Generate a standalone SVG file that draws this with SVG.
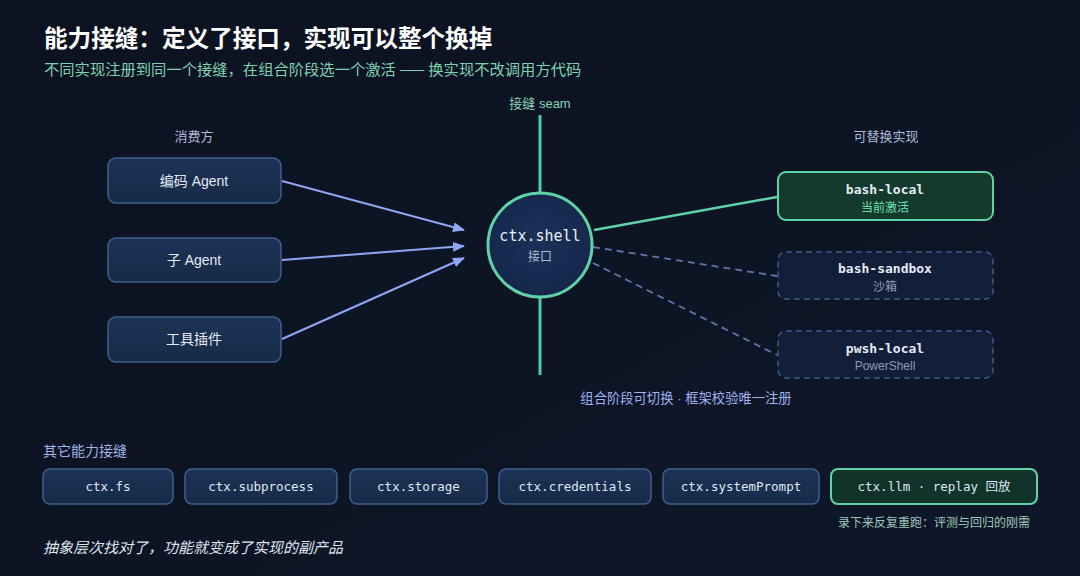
<svg xmlns="http://www.w3.org/2000/svg" width="1080" height="576" viewBox="0 0 1080 576">
<defs>
<linearGradient id="bg" x1="0" y1="0" x2="1" y2="1">
<stop offset="0" stop-color="#0c1220"/>
<stop offset="1" stop-color="#0e1729"/>
</linearGradient>
<linearGradient id="boxfill" x1="0" y1="0" x2="0" y2="1">
<stop offset="0" stop-color="#1d3356"/>
<stop offset="1" stop-color="#172a48"/>
</linearGradient>
<radialGradient id="circfill" cx="0.5" cy="0.45" r="0.6">
<stop offset="0" stop-color="#1b3158"/>
<stop offset="1" stop-color="#14264a"/>
</radialGradient>
<marker id="arr" viewBox="0 0 12 10" refX="11" refY="5" markerWidth="12" markerHeight="10" markerUnits="userSpaceOnUse" orient="auto">
<path d="M0,0 L12,5 L0,10 Z" fill="#8fa6f4"/>
</marker>
<style>
.sans{font-family:"Liberation Sans","Noto Sans CJK SC",sans-serif}
.cjk{font-family:"Noto Sans CJK SC","Liberation Sans",sans-serif}
.mono{font-family:"DejaVu Sans Mono","Liberation Mono","Noto Sans CJK SC",monospace}
.box{fill:url(#boxfill);stroke:#3f5f8c;stroke-width:1.5}
.green{fill:#133a2c;stroke:#5fd3a7;stroke-width:2}
.dash{fill:#131f39;stroke:#3f5a88;stroke-width:1.5;stroke-dasharray:6 4}
.lbl{fill:#e4ebf5;font-size:14px;text-anchor:middle}
.mlbl{fill:#e4ebf5;font-size:13px;text-anchor:middle;font-weight:bold}
.small{font-size:12px;text-anchor:middle}
.sec{fill:#a9bcd8;font-size:13px;text-anchor:middle}
.arrow{stroke:#8fa6f4;stroke-width:2;fill:none}
.seam{stroke:#53c9a3;stroke-width:3;fill:none}
.dl{stroke:#5f77ab;stroke-width:1.8;stroke-dasharray:7 5;fill:none}
.bm{fill:#dfe7f2;font-size:12.5px;text-anchor:middle}
</style>
</defs>
<rect x="0" y="0" width="1080" height="576" fill="url(#bg)"/>

<text class="cjk" x="44" y="47" font-size="23.6" font-weight="bold" fill="#ffffff">能力接缝：定义了接口，实现可以整个换掉</text>
<text class="cjk" x="44" y="75" font-size="15.3" fill="#7fd2b2">不同实现注册到同一个接缝，在组合阶段选一个激活 —— 换实现不改调用方代码</text>

<text class="sans sec" x="194" y="141">消费方</text>
<text class="sans sec" x="886" y="141">可替换实现</text>
<text class="sans" x="540" y="108" font-size="13" text-anchor="middle" fill="#86d3b7">接缝 seam</text>

<g id="connectors">
<line class="seam" x1="540" y1="115" x2="540" y2="192"/>
<line class="seam" x1="540" y1="297" x2="540" y2="375"/>
<line class="arrow" x1="282" y1="181" x2="464" y2="230" marker-end="url(#arr)"/>
<line class="arrow" x1="282" y1="260" x2="464" y2="246" marker-end="url(#arr)"/>
<line class="arrow" x1="282" y1="339" x2="464" y2="258" marker-end="url(#arr)"/>
<line x1="594" y1="230" x2="777" y2="197" stroke="#5fd3a7" stroke-width="2.5"/>
<line class="dl" x1="593" y1="247" x2="777" y2="276"/>
<line class="dl" x1="593" y1="263" x2="777" y2="355"/>
</g>

<g id="node-coder">
<rect class="box" x="108" y="158" width="173" height="45" rx="8"/>
<text class="sans lbl" x="194" y="186">编码 Agent</text>
</g>
<g id="node-subagent">
<rect class="box" x="108" y="238" width="173" height="44" rx="8"/>
<text class="sans lbl" x="194" y="265">子 Agent</text>
</g>
<g id="node-plugin">
<rect class="box" x="108" y="317" width="173" height="45" rx="8"/>
<text class="sans lbl" x="194" y="344">工具插件</text>
</g>

<g id="node-ctx-shell">
<circle cx="540" cy="245" r="52" fill="url(#circfill)" stroke="#5fd3a7" stroke-width="3"/>
<text class="mono" x="540" y="241" font-size="15" text-anchor="middle" fill="#e8eef7">ctx.shell</text>
<text class="sans" x="540" y="261" font-size="12" text-anchor="middle" fill="#a9bcd8">接口</text>
</g>

<g id="node-bash-local">
<rect class="green" x="778" y="172" width="215" height="48" rx="8"/>
<text class="mono mlbl" x="885" y="194">bash-local</text>
<text class="sans small" x="885" y="212" fill="#6fe0b2">当前激活</text>
</g>
<g id="node-bash-sandbox">
<rect class="dash" x="778" y="252" width="215" height="47" rx="8"/>
<text class="mono mlbl" x="885" y="273">bash-sandbox</text>
<text class="sans small" x="885" y="291" fill="#8c9bb4">沙箱</text>
</g>
<g id="node-pwsh-local">
<rect class="dash" x="778" y="331" width="215" height="47" rx="8"/>
<text class="mono mlbl" x="885" y="353">pwsh-local</text>
<text class="sans small" x="885" y="370" fill="#8c9bb4">PowerShell</text>
</g>

<text class="sans" x="686" y="403" font-size="13.3" text-anchor="middle" fill="#9fb3f0">组合阶段可切换 · 框架校验唯一注册</text>

<text class="sans" x="43" y="456" font-size="14" fill="#9fb3e8">其它能力接缝</text>

<g id="node-fs">
<rect class="box" x="43" y="469" width="130" height="35" rx="7"/>
<text class="mono bm" x="108" y="491">ctx.fs</text>
</g>
<g id="node-subprocess">
<rect class="box" x="185" y="469" width="152" height="35" rx="7"/>
<text class="mono bm" x="261" y="491">ctx.subprocess</text>
</g>
<g id="node-storage">
<rect class="box" x="350" y="469" width="137" height="35" rx="7"/>
<text class="mono bm" x="418.5" y="491">ctx.storage</text>
</g>
<g id="node-credentials">
<rect class="box" x="499" y="469" width="152" height="35" rx="7"/>
<text class="mono bm" x="575" y="491">ctx.credentials</text>
</g>
<g id="node-systemprompt">
<rect class="box" x="663" y="469" width="156" height="35" rx="7"/>
<text class="mono bm" x="741" y="491">ctx.systemPrompt</text>
</g>
<g id="node-llm">
<rect class="green" x="831" y="469" width="206" height="35" rx="7" style="fill:#12332a"/>
<text class="mono bm" x="934" y="491" fill="#cfe9de">ctx.llm · replay 回放</text>
</g>

<text class="sans" x="934" y="527" font-size="12" text-anchor="middle" fill="#9fc7ba">录下来反复重跑：评测与回归的刚需</text>

<text class="sans" x="43" y="553" font-size="15" font-style="italic" fill="#dfe6f0">抽象层次找对了，功能就变成了实现的副产品</text>
</svg>
